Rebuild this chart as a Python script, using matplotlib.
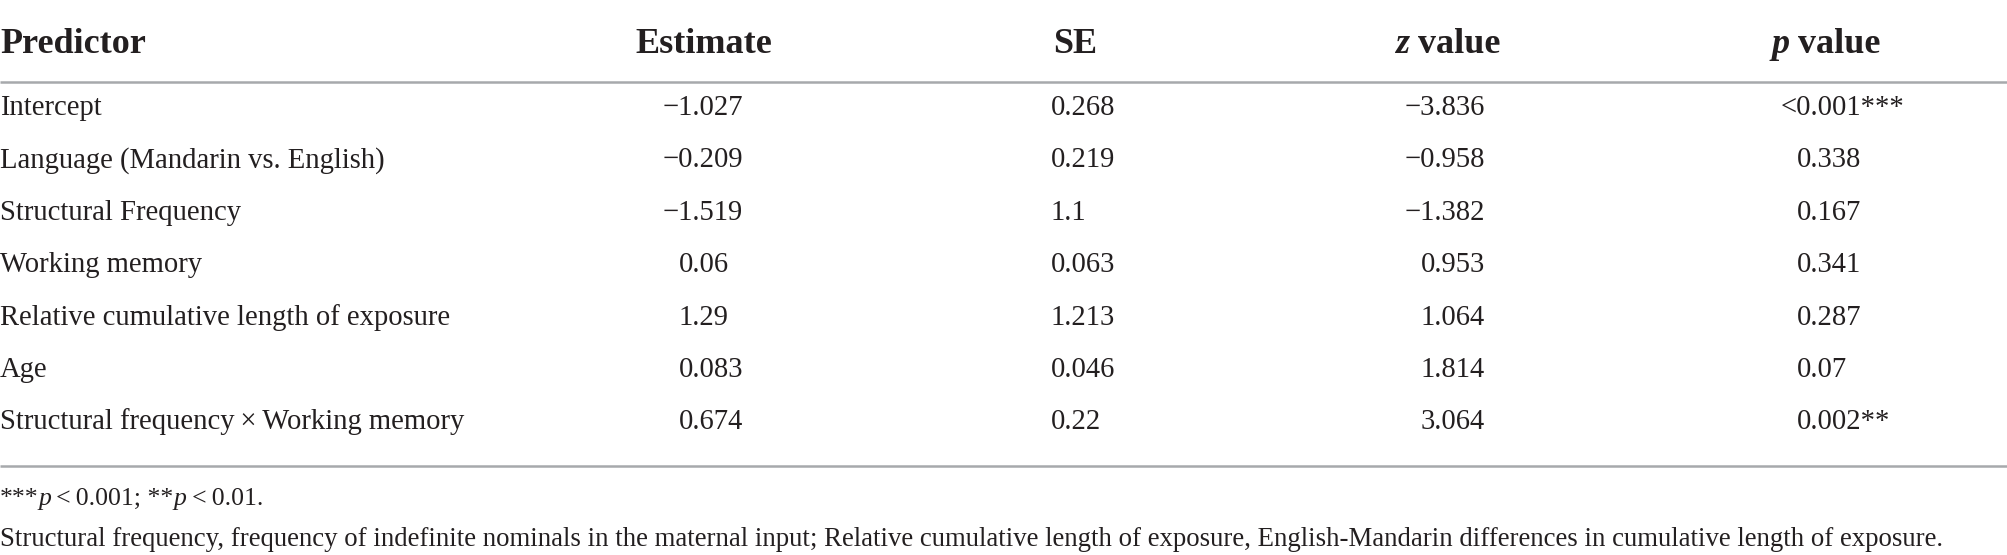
import matplotlib
matplotlib.use("Agg")
import matplotlib.pyplot as plt

plt.rcParams['font.family'] = ['Liberation Serif', 'DejaVu Serif']

# table data
predictors = ["Intercept",
              "Language (Mandarin vs. English)",
              "Structural Frequency",
              "Working memory",
              "Relative cumulative length of exposure",
              "Age",
              "Structural frequency\u2009\u00d7\u2009Working memory"]
estimates = [-1.027, -0.209, -1.519, 0.06, 1.29, 0.083, 0.674]
se_vals = [0.268, 0.219, 1.1, 0.063, 1.213, 0.046, 0.22]
z_vals = [-3.836, -0.958, -1.382, 0.953, 1.064, 1.814, 3.064]
p_vals = ["<0.001", "0.338", "0.167", "0.341", "0.287", "0.07", "0.002"]
p_stars = ["***", "", "", "", "", "", "**"]

note1 = [("***", "normal"), ("p", "italic"), ("\u2009<\u20090.001; **", "normal"),
         ("p", "italic"), ("\u2009<\u20090.01.", "normal")]
note2 = ("Structural frequency, frequency of indefinite nominals in the maternal input; "
         "Relative cumulative length of exposure, English-Mandarin differences in "
         "cumulative length of exposure.")

W, H = 2008, 555
txt = "#231f20"
rule = "#a7a9ac"
body_fs = 20.6
head_fs = 26
note1_fs = 18.5
note2_fs = 19.3

fig = plt.figure(figsize=(W / 100, H / 100), dpi=100)
ax = fig.add_axes([0, 0, 1, 1])
ax.set_xlim(0, W)
ax.set_ylim(H, 0)
ax.axis('off')
renderer = fig.canvas.get_renderer()


def fmt(v):
    return str(v).replace("-", "\u2212")


def width_of(s, **kw):
    t = ax.text(0, 0, s, **kw)
    w = t.get_window_extent(renderer).width
    t.remove()
    return w


def runs(x, y, parts, size, weight="normal", ha="left"):
    widths = [width_of(s, fontsize=size, style=st, weight=weight) for s, st in parts]
    total = sum(widths)
    if ha == "center":
        x = x - total / 2
    for (s, st), w in zip(parts, widths):
        ax.text(x, y, s, fontsize=size, style=st, weight=weight, color=txt,
                va="baseline", ha="left")
        x += w


# header
head_y = 53
runs(0, head_y, [("Predictor", "normal")], head_fs, weight="bold")
runs(704, head_y, [("Estimate", "normal")], head_fs, weight="bold", ha="center")
runs(1075, head_y, [("SE", "normal")], head_fs, weight="bold", ha="center")
runs(1448, head_y, [("z", "italic"), (" value", "normal")], head_fs, weight="bold", ha="center")
runs(1826, head_y, [("p", "italic"), (" value", "normal")], head_fs, weight="bold", ha="center")

ax.plot([0, W], [82, 82], color=rule, lw=1.8, solid_capstyle="butt")

row0 = 115
step = 52.4
minus_w = width_of("\u2212", fontsize=body_fs)
lt_w = width_of("<", fontsize=body_fs)
for i, name in enumerate(predictors):
    y = row0 + i * step
    ax.text(0, y, name, fontsize=body_fs, color=txt, va="baseline", ha="left")
    e = fmt(estimates[i])
    ex = 679 - (minus_w if e.startswith("\u2212") else 0)
    ax.text(ex, y, e, fontsize=body_fs, color=txt, va="baseline", ha="left")
    ax.text(1051, y, fmt(se_vals[i]), fontsize=body_fs, color=txt, va="baseline", ha="left")
    ax.text(1485, y, fmt(z_vals[i]), fontsize=body_fs, color=txt, va="baseline", ha="right")
    p = p_vals[i]
    px = 1797 - (lt_w if p.startswith("<") else 0)
    ax.text(px, y, p + p_stars[i], fontsize=body_fs, color=txt, va="baseline", ha="left")

ax.plot([0, W], [466, 466], color=rule, lw=1.8, solid_capstyle="butt")

# footnotes
runs(0, 505, note1, note1_fs)
ax.text(0, 546, note2, fontsize=note2_fs, color=txt, va="baseline", ha="left")

fig.savefig("out.png", dpi=100)
